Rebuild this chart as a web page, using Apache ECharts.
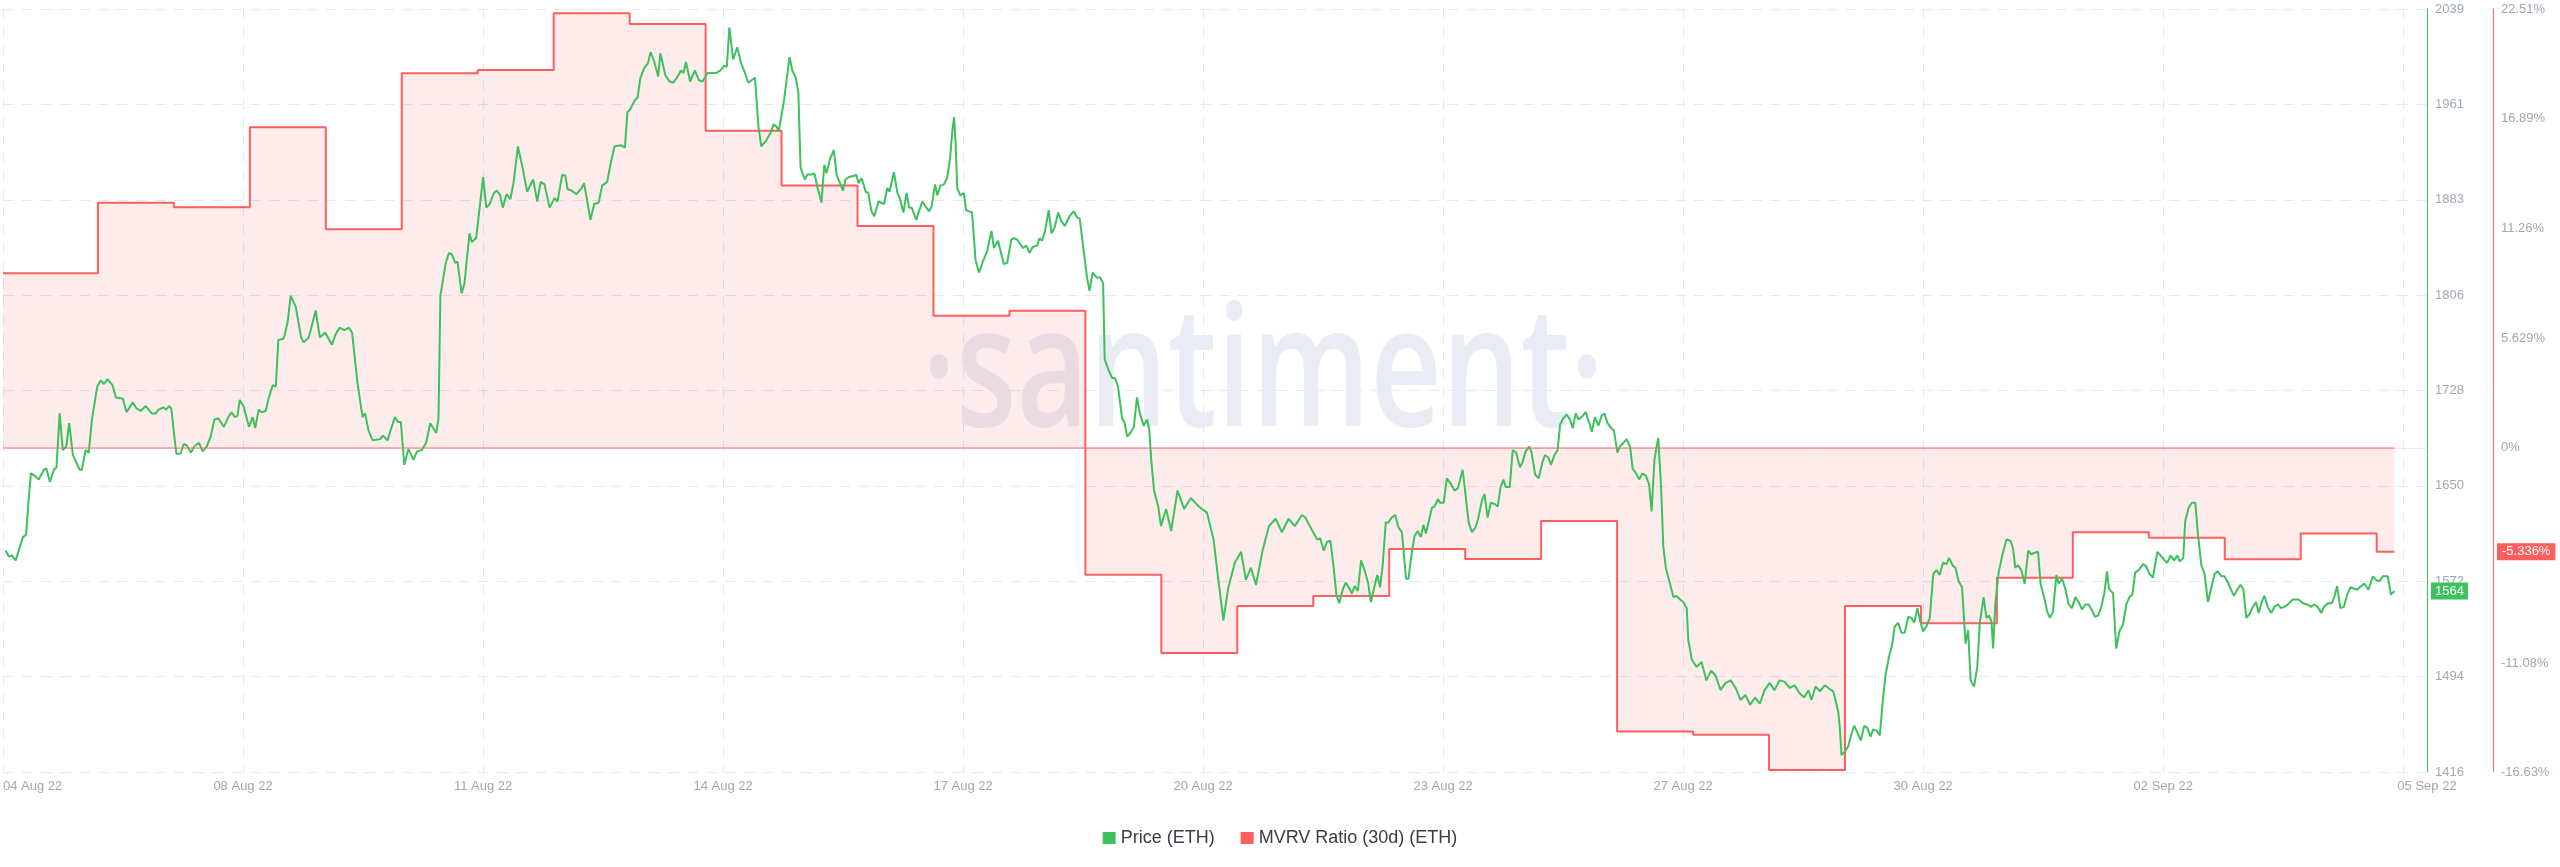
<!DOCTYPE html>
<html>
<head>
<meta charset="utf-8">
<title>ETH Price vs MVRV Ratio (30d)</title>
<script src="https://cdn.jsdelivr.net/npm/echarts@6/dist/echarts.min.js"></script>
<style>
  html, body { margin: 0; padding: 0; background: #ffffff; }
  #chart { width: 2560px; height: 867px; }
</style>
</head>
<body>
<div id="chart"></div>
<script>
// hours since the left edge of the chart (04 Aug 22, 22:30 UTC)
const priceHours = [
  0.8, 1.9, 2.8, 4.0, 5.7, 6.3, 7.3, 8.1, 8.8, 10.0,
  11.3, 12.9, 13.7, 14.8, 16.1, 16.9, 17.9, 18.9, 20.0, 20.9,
  22.1, 24.2, 24.9, 26.1, 27.1, 28.1, 29.8, 30.9, 31.9, 33.0,
  34.6, 35.7, 37.9, 39.0, 41.0, 42.2, 43.5, 45.1, 47.0, 48.3,
  49.1, 50.7, 51.6, 52.4, 53.2, 54.0, 54.8, 56.1, 57.1, 58.0,
  59.4, 60.4, 61.9, 63.1, 64.4, 65.6, 66.8, 68.0, 69.8, 71.2,
  72.2, 73.2, 74.1, 74.8, 76.0, 77.7, 78.9, 79.7, 80.8, 81.8,
  83.0, 84.0, 85.2, 86.2, 87.0, 88.6, 89.0, 89.9, 90.9, 92.5,
  94.2, 95.0, 96.6, 98.8, 100.1, 101.8, 103.9, 105.0, 106.3, 107.9,
  109.2, 110.3, 112.0, 113.6, 114.4, 115.5, 116.8, 119.2, 120.0, 121.5,
  123.8, 124.8, 125.7, 126.8, 128.1, 129.7, 130.8, 132.3, 133.7, 135.0,
  136.9, 137.6, 138.2, 139.9, 140.9, 141.8, 142.9, 143.6, 144.9, 145.8,
  147.4, 148.1, 149.5, 151.7, 152.7, 153.8, 155.1, 156.0, 157.1, 157.9,
  159.1, 160.3, 161.3, 162.7, 164.3, 165.6, 167.5, 168.8, 169.9, 171.1,
  172.7, 174.3, 175.2, 176.7, 177.7, 178.4, 179.6, 181.2, 182.8, 183.6,
  184.7, 185.6, 186.8, 188.2, 189.3, 190.9, 192.0, 193.2, 195.2, 196.5,
  197.3, 198.1, 199.7, 200.5, 201.4, 202.6, 203.8, 204.6, 205.8, 207.0,
  207.7, 209.3, 210.6, 211.8, 213.4, 214.2, 215.0, 215.8, 217.1, 218.6,
  219.9, 221.0, 222.6, 223.8, 225.4, 226.7, 227.9, 228.7, 229.5, 230.7,
  232.0, 233.2, 234.3, 235.5, 236.5, 237.6, 238.7, 239.6, 241.2, 242.5,
  243.5, 244.5, 245.1, 246.8, 248.5,
  249.4, 250.5, 251.3, 252.0, 252.6, 253.4, 254.1, 255.5, 256.4, 257.3,
  258.6, 259.5, 260.2, 261.2, 262.5, 263.4, 264.3, 265.4, 266.2, 267.3,
  268.9, 269.6, 270.3, 271.3, 272.6, 273.4, 274.4, 275.3, 276.6, 278.4,
  279.4, 280.1, 281.5, 282.6, 283.3, 284.5, 285.5, 286.3, 287.1, 288.6,
  289.4, 290.5, 291.5, 292.6, 293.4, 294.5, 295.2, 296.2, 297.3, 298.3,
  299.2, 299.9, 300.5, 301.0, 301.5, 302.5, 303.6, 304.3, 305.2, 306.2,
  307.3, 308.4, 309.6, 311.0, 312.3, 313.1, 314.4, 316.2, 317.3, 318.6,
  319.4, 320.4, 322.3, 323.3, 324.3, 325.4, 326.8, 327.5, 328.3, 329.2,
  330.4, 331.3, 332.3, 333.4, 334.4, 335.5, 337.0, 338.3, 339.4, 340.2,
  341.5, 342.5, 343.3, 344.3, 345.5, 346.7, 347.6, 348.1, 349.4, 350.4,
  351.3, 352.3, 353.6, 354.4, 355.2, 356.2, 357.3, 358.3, 359.2, 360.4,
  361.5, 362.2, 362.8,
  363.7, 365.0, 365.9, 367.5, 369.1, 371.1, 373.2, 375.3, 377.8, 380.4,
  382.5, 384.0, 385.6, 387.1, 389.2, 391.2, 392.7, 394.3, 395.9, 397.9,
  400.0, 402.1, 404.1, 406.2, 408.2,
  410.4, 411.5, 412.5, 414.4, 415.2, 416.2, 417.3, 418.3, 419.4, 420.4,
  421.3, 422.2, 423.3, 424.3, 425.4, 426.2, 427.1, 428.1, 429.1, 430.2,
  431.3, 432.2, 433.1, 434.2, 435.1, 435.9, 436.9, 437.8, 438.8, 439.9,
  440.9, 442.0, 442.8, 443.3, 444.1, 445.1, 446.0, 447.0, 448.0, 448.8,
  449.6, 450.4, 451.5, 452.3, 453.4, 454.1, 455.2, 456.2, 457.6, 458.6,
  459.7, 461.2, 462.0, 463.1, 464.1, 465.1, 466.0, 467.3, 468.1, 469.1,
  470.1, 471.3, 472.3, 473.2, 474.1, 474.8, 476.1, 477.0, 478.1, 479.3,
  480.1, 481.1, 482.2, 483.0, 484.1, 485.2, 486.4, 487.2, 488.3, 489.1,
  490.2, 491.2, 492.0, 493.0, 494.1, 495.1, 496.0, 496.9, 497.8, 498.8,
  500.1, 501.1, 502.0, 503.0, 504.1, 505.1, 506.0, 507.0, 508.1, 509.0,
  510.1, 510.9, 512.0, 513.0, 514.1, 514.9, 516.0, 517.0, 518.0, 519.1,
  520.1, 520.9, 521.8, 522.5, 523.0, 523.9, 524.6, 525.4, 526.4, 527.8,
  528.8, 529.9, 530.9, 532.0, 532.5,
  533.6, 535.1, 536.7, 538.2, 539.7, 541.1, 542.7, 544.3, 545.9, 547.4,
  549.0, 550.6, 552.0, 553.6, 555.1, 556.6, 558.2, 559.7, 561.3, 562.9,
  564.5, 566.1, 567.5, 569.1, 570.5,
  571.4, 572.7, 574.1, 575.6, 577.2, 578.3, 579.0, 579.9, 580.4, 580.9,
  582.0, 583.0, 583.8, 584.9, 586.0, 587.0, 588.1, 589.1, 590.1, 590.9,
  592.0, 593.0, 593.9, 594.8, 595.8, 596.9, 597.7, 598.8, 599.8, 600.9,
  602.0, 603.0, 603.9, 604.9, 605.8, 606.7, 607.7, 608.8, 609.9, 610.9,
  611.9, 613.0, 614.1, 614.9, 616.0, 616.9, 617.9, 619.0, 620.1, 620.9,
  621.7, 622.8, 623.8, 624.6, 625.8, 626.7, 627.5, 628.3, 628.8, 629.5,
  630.6, 631.7, 633.0, 634.3, 635.1, 635.8, 636.7, 637.7, 638.8, 639.9,
  640.9, 641.7, 643.0, 643.8, 645.1, 645.9, 646.8, 647.7, 648.8, 649.5,
  650.6, 651.6, 652.7, 653.7, 654.8, 655.8, 656.9, 658.0, 659.0, 660.1,
  660.9, 662.0, 663.0, 664.0, 664.8, 665.4, 666.7, 667.7, 668.8, 669.8,
  670.9, 671.9, 672.8, 673.7, 674.8, 676.2, 677.2, 678.2, 679.3, 679.8,
  680.7, 681.7, 683.0, 683.8, 684.9, 686.0, 687.0, 687.8, 688.9, 689.5,
  690.6, 691.6, 692.7, 693.5, 694.6, 695.6, 696.7, 697.7, 698.8, 699.8,
  700.9, 701.9, 703.0, 704.0, 704.9, 705.9, 707.0, 707.9, 708.8, 709.8,
  710.9, 711.9, 712.7, 713.7, 714.5, 715.6, 716.7, 717.7, 718.8,
  719.8, 720.9, 721.9, 723.5, 725.3, 726.7, 728.0, 729.3, 730.3, 731.4,
  732.5, 733.3, 734.6, 735.8, 736.6, 737.5, 738.5, 739.6, 740.7, 741.7,
  742.8, 743.8, 745.1, 746.1, 747.4, 748.8, 749.8, 750.9, 751.9, 753.5,
  754.5, 755.6
];

const priceUsd = [
  1597, 1592, 1593, 1589, 1603, 1608, 1610, 1638, 1660, 1658,
  1655, 1663, 1664, 1653, 1663, 1665, 1709, 1679, 1682, 1701,
  1675, 1663, 1663, 1679, 1677, 1704, 1731, 1736, 1733, 1737,
  1732, 1722, 1721, 1710, 1718, 1713, 1711, 1715, 1709, 1709,
  1712, 1714, 1712, 1715, 1713, 1693, 1676, 1676, 1684, 1683,
  1677, 1682, 1685, 1678, 1682, 1690, 1704, 1705, 1698, 1706,
  1710, 1706, 1707, 1720, 1715, 1698, 1706, 1697, 1712, 1710,
  1711, 1722, 1732, 1731, 1769, 1770, 1773, 1783, 1805, 1796,
  1771, 1767, 1771, 1793, 1771, 1775, 1765, 1773, 1779, 1777,
  1779, 1775, 1734, 1706, 1709, 1695, 1687, 1688, 1691, 1687,
  1706, 1702, 1702, 1667, 1680, 1671, 1678, 1679, 1685, 1701,
  1693, 1705, 1805, 1832, 1840, 1839, 1832, 1833, 1807, 1815,
  1856, 1849, 1852, 1902, 1877, 1880, 1889, 1891, 1887, 1877,
  1888, 1884, 1897, 1927, 1908, 1890, 1900, 1882, 1898, 1896,
  1877, 1885, 1882, 1904, 1903, 1892, 1891, 1888, 1893, 1897,
  1881, 1867, 1880, 1881, 1895, 1898, 1913, 1927, 1928, 1926,
  1955, 1957, 1965, 1967, 1983, 1991, 1995, 2004, 1996, 1984,
  2003, 1985, 1980, 1979, 1985, 1989, 1987, 1996, 1980, 1989,
  1981, 1980, 1987, 1987, 1987, 1989, 1993, 1992, 2024, 1998,
  2008, 1995, 1988, 1979, 1981, 1983, 1943, 1927, 1932, 1938,
  1945, 1943, 1939, 1965, 2000,
  1989, 1983, 1971, 1910, 1905, 1900, 1904, 1904, 1905, 1894,
  1881, 1912, 1905, 1916, 1924, 1904, 1898, 1891, 1900, 1902,
  1903, 1904, 1897, 1901, 1890, 1889, 1874, 1870, 1882, 1880,
  1893, 1890, 1906, 1889, 1885, 1873, 1889, 1877, 1877, 1867,
  1874, 1882, 1878, 1874, 1878, 1896, 1887, 1895, 1896, 1901,
  1916, 1938, 1951, 1930, 1893, 1887, 1889, 1875, 1874, 1873,
  1834, 1824, 1833, 1842, 1858, 1844, 1850, 1831, 1832, 1851,
  1852, 1851, 1844, 1846, 1840, 1845, 1846, 1852, 1850, 1857,
  1875, 1856, 1861, 1873, 1866, 1862, 1870, 1874, 1869, 1868,
  1841, 1820, 1809, 1824, 1820, 1820, 1815, 1753, 1744, 1738,
  1738, 1731, 1705, 1701, 1690, 1693, 1698, 1722, 1709, 1699,
  1704, 1695, 1671,
  1646, 1633, 1617, 1631, 1613, 1646, 1631, 1640, 1633, 1628,
  1606, 1573, 1540, 1566, 1587, 1596, 1573, 1583, 1569, 1596,
  1617, 1623, 1612, 1623, 1617,
  1626, 1624, 1619, 1610, 1606, 1607, 1597, 1604, 1605, 1584,
  1561, 1554, 1565, 1571, 1566, 1562, 1568, 1564, 1589, 1581,
  1571, 1555, 1565, 1577, 1567, 1584, 1620, 1620, 1624, 1626,
  1616, 1612, 1589, 1574, 1574, 1595, 1609, 1613, 1608, 1618,
  1611, 1620, 1632, 1633, 1639, 1636, 1636, 1656, 1651, 1646,
  1648, 1663, 1645, 1620, 1612, 1615, 1622, 1638, 1643, 1624,
  1636, 1635, 1633, 1649, 1655, 1649, 1649, 1679, 1677, 1665,
  1669, 1678, 1682, 1677, 1659, 1656, 1669, 1675, 1673, 1667,
  1675, 1679, 1700, 1705, 1708, 1704, 1697, 1709, 1704, 1706,
  1710, 1702, 1694, 1706, 1699, 1707, 1709, 1701, 1697, 1695,
  1677, 1682, 1685, 1688, 1682, 1664, 1660, 1655, 1660, 1658,
  1651, 1629, 1671, 1682, 1689, 1649, 1600, 1583, 1573, 1559,
  1560, 1557, 1555, 1550, 1524,
  1508, 1502, 1506, 1491, 1499, 1495, 1483, 1489, 1491, 1485,
  1475, 1479, 1471, 1477, 1472, 1483, 1489, 1483, 1491, 1490,
  1485, 1487, 1481, 1477, 1483,
  1475, 1486, 1482, 1487, 1484, 1482, 1475, 1465, 1451, 1430,
  1433, 1437, 1445, 1454, 1448, 1442, 1454, 1452, 1445, 1451,
  1450, 1446, 1473, 1495, 1509, 1520, 1535, 1538, 1530, 1530,
  1543, 1542, 1538, 1550, 1539, 1531, 1535, 1542, 1578, 1581,
  1577, 1587, 1586, 1591, 1585, 1583, 1572, 1567, 1521, 1532,
  1491, 1486, 1502, 1538, 1559, 1542, 1544, 1539, 1517, 1553,
  1580, 1593, 1606, 1605, 1599, 1583, 1585, 1581, 1570, 1597,
  1594, 1595, 1596, 1570, 1557, 1547, 1542, 1547, 1577, 1570,
  1574, 1566, 1553, 1550, 1559, 1555, 1549, 1553, 1553, 1548,
  1543, 1544, 1551, 1563, 1580, 1566, 1562, 1517, 1532, 1536,
  1553, 1559, 1561, 1579, 1581, 1586, 1584, 1578, 1575, 1575,
  1596, 1593, 1589, 1587, 1593, 1589, 1593, 1588, 1591, 1621,
  1632, 1636, 1636, 1611, 1585, 1578, 1555, 1566, 1578, 1580,
  1576, 1576, 1571, 1565, 1560, 1565, 1569, 1565, 1542, 1545,
  1551, 1555, 1546, 1555, 1560, 1551, 1546, 1551, 1553,
  1550, 1551, 1553, 1557, 1557, 1554, 1553, 1551, 1553, 1551,
  1546, 1551, 1554, 1554, 1559, 1568, 1550, 1551, 1561, 1567,
  1566, 1565, 1568, 1570, 1565, 1576, 1573, 1572, 1576, 1576,
  1561, 1564
];

// MVRV (30d) changes once a day; each value holds until the next hour mark
const mvrvHours = [
  0, 30, 54, 78, 102, 126, 150, 174, 198, 222, 246,
  270, 294, 318, 342, 366, 390, 414, 438, 462, 486,
  510, 534, 558, 582, 606, 630, 654, 678, 702, 726,
  750, 755.6
];
const mvrvPct = [
  8.95, 12.57, 12.34, 16.44, 11.21, 19.21, 19.38, 22.29, 21.74, 16.27, 13.45,
  11.38, 6.78, 7.03, -6.51, -10.53, -8.12, -7.6, -5.19, -5.7, -3.75,
  -14.55, -14.72, -16.53, -8.11, -9.0, -6.66, -4.33, -4.61, -5.72, -4.39,
  -5.336, -5.336
];

const dateLabels = [
  '04 Aug 22', '08 Aug 22', '11 Aug 22', '14 Aug 22', '17 Aug 22', '20 Aug 22',
  '23 Aug 22', '27 Aug 22', '30 Aug 22', '02 Sep 22', '05 Sep 22'
];
const mvrvTicks = [-16.63, -11.08, 0, 5.629, 11.26, 16.89, 22.51];

const priceColor = '#3cc15c';
const mvrvColor = '#ff5e5e';
const labelColor = '#9ea9b5';
const gridColor = '#e4e8ef';
const fontFamily = "'Liberation Sans', Arial, sans-serif";

const HOUR = 3600 * 1000;
const startTime = Date.UTC(2022, 7, 4, 22, 30);
const tickStep = 75.84 * HOUR;
const endTime = startTime + 765.9 * HOUR;
const toTime = (h) => startTime + h * HOUR;

const priceData = priceHours.map((h, i) => [toTime(h), priceUsd[i]]);
const mvrvData = mvrvHours.map((h, i) => [toTime(h), mvrvPct[i]]);

const chart = echarts.init(document.getElementById('chart'));

const option = {
  animation: false,
  textStyle: { fontFamily },
  grid: { left: 0, right: 133, top: 9, bottom: 95, containLabel: false },
  graphic: [{
    type: 'text',
    x: 1263,
    y: 378,
    scaleX: 0.74,
    z: 1,
    silent: true,
    style: {
      text: '\u00b7santiment\u00b7',
      font: "600 168px 'Open Sans'",
      fill: '#e9ecf4',
      align: 'center',
      textAlign: 'center',
      verticalAlign: 'middle',
      textVerticalAlign: 'middle'
    }
  }],
  legend: {
    data: ['Price (ETH)', 'MVRV Ratio (30d) (ETH)'],
    left: 'center',
    top: 824,
    icon: 'rect',
    itemWidth: 13,
    itemHeight: 12,
    itemGap: 26,
    selectedMode: false,
    textStyle: { color: '#3a3d46', fontSize: 18, fontFamily }
  },
  xAxis: {
    type: 'value',
    min: startTime,
    max: endTime,
    interval: tickStep,
    axisLine: { lineStyle: { color: '#e3e7ee' } },
    axisTick: { show: false },
    axisLabel: {
      color: labelColor,
      fontSize: 13,
      margin: 8,
      alignMinLabel: 'left',
      formatter: (value) => {
        if (value >= endTime) return dateLabels[dateLabels.length - 1];
        const k = Math.round((value - startTime) / tickStep);
        return k < dateLabels.length - 1 ? dateLabels[k] : '';
      }
    },
    splitLine: { show: true, lineStyle: { color: gridColor, type: [10, 8] } }
  },
  yAxis: [
    {
      type: 'value',
      position: 'right',
      min: 1416.2,
      max: 2039.2,
      interval: 77.875,
      axisLine: { show: true, lineStyle: { color: priceColor } },
      axisTick: { show: false },
      axisLabel: {
        color: labelColor,
        fontSize: 13,
        margin: 8,
        formatter: (v) => String(Math.round(v))
      },
      splitLine: { show: true, lineStyle: { color: gridColor, type: [11, 8] } },
      axisPointer: {
        show: true,
        type: 'line',
        status: 'show',
        value: priceUsd[priceUsd.length - 1],
        triggerTooltip: false,
        lineStyle: { opacity: 0 },
        label: {
          show: true,
          backgroundColor: priceColor,
          color: '#ffffff',
          fontSize: 13,
          fontFamily,
          padding: [2, 4, 2, 4],
          borderRadius: 0,
          margin: 4,
          formatter: (p) => String(Math.round(p.value))
        }
      }
    },
    {
      type: 'value',
      position: 'right',
      offset: 66,
      min: -16.63,
      max: 22.51,
      axisLine: { show: true, lineStyle: { color: '#ff6b6b' } },
      axisTick: { show: false },
      axisLabel: {
        color: labelColor,
        fontSize: 13,
        margin: 8,
        customValues: mvrvTicks,
        formatter: (v) => v + '%'
      },
      splitLine: { show: false },
      axisPointer: {
        show: true,
        type: 'line',
        status: 'show',
        value: mvrvPct[mvrvPct.length - 1],
        triggerTooltip: false,
        lineStyle: { opacity: 0 },
        label: {
          show: true,
          backgroundColor: mvrvColor,
          color: '#ffffff',
          fontSize: 13,
          fontFamily,
          padding: [2, 5, 2, 5],
          borderRadius: 0,
          margin: 4,
          formatter: (p) => p.value + '%'
        }
      }
    }
  ],
  series: [
    {
      name: 'MVRV Ratio (30d) (ETH)',
      type: 'line',
      yAxisIndex: 1,
      data: mvrvData,
      step: 'end',
      showSymbol: false,
      color: mvrvColor,
      lineStyle: { color: mvrvColor, width: 2 },
      areaStyle: { color: 'rgba(245, 90, 100, 0.17)', origin: 'auto' },
      emphasis: { disabled: true },
      markLine: {
        silent: true,
        symbol: ['none', 'none'],
        label: { show: false },
        lineStyle: { color: 'rgba(255, 94, 94, 0.45)', width: 2, type: 'solid' },
        data: [[
          { coord: [toTime(mvrvHours[0]), 0] },
          { coord: [toTime(mvrvHours[mvrvHours.length - 1]), 0] }
        ]]
      }
    },
    {
      name: 'Price (ETH)',
      type: 'line',
      yAxisIndex: 0,
      data: priceData,
      showSymbol: false,
      color: priceColor,
      lineStyle: { color: priceColor, width: 2 },
      emphasis: { disabled: true }
    }
  ]
};

chart.setOption(option);
</script>
</body>
</html>
